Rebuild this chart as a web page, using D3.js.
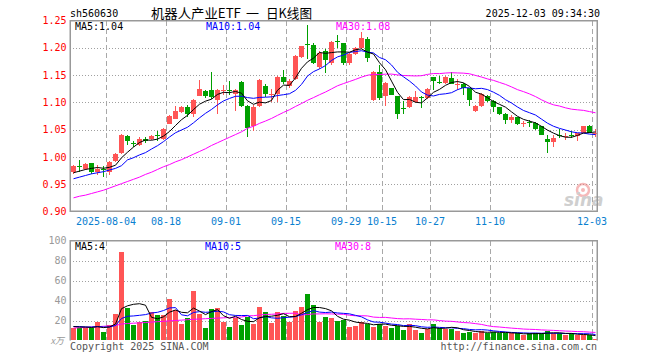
<!DOCTYPE html>
<html><head><meta charset="utf-8">
<script src="https://cdn.jsdelivr.net/npm/d3@7"></script>
<style>body{margin:0;background:#fff}</style>
</head><body><svg id="c" width="660" height="360"></svg>
<script>
const dates = ["07-25","07-28","07-29","07-30","07-31","08-01","08-04","08-05","08-06","08-07","08-08","08-11","08-12","08-13","08-14","08-15","08-18","08-19","08-20","08-21","08-22","08-25","08-26","08-27","08-28","08-29","09-01","09-02","09-03","09-04","09-05","09-08","09-09","09-10","09-11","09-12","09-15","09-16","09-17","09-18","09-19","09-22","09-23","09-24","09-25","09-26","09-29","09-30","10-09","10-10","10-13","10-14","10-15","10-16","10-17","10-20","10-21","10-22","10-23","10-24","10-27","10-28","10-29","10-30","10-31","11-03","11-04","11-05","11-06","11-07","11-10","11-11","11-12","11-13","11-14","11-17","11-18","11-19","11-20","11-21","11-24","11-25","11-26","11-27","11-28","12-01","12-02","12-03"];
const open  = [0.972,0.983,0.978,0.988,0.973,0.977,0.972,0.992,1.007,1.039,1.026,1.022,1.033,1.033,1.040,1.032,1.061,1.070,1.082,1.092,1.079,1.112,1.120,1.122,1.105,1.121,1.123,1.116,1.137,1.094,1.057,1.094,1.130,1.113,1.116,1.147,1.130,1.143,1.183,1.207,1.206,1.165,1.194,1.172,1.213,1.208,1.172,1.188,1.200,1.217,1.104,1.155,1.111,1.127,1.112,1.089,1.092,1.100,1.109,1.108,1.146,1.138,1.136,1.145,1.133,1.133,1.127,1.085,1.094,1.112,1.102,1.091,1.079,1.067,1.073,1.062,1.064,1.062,1.056,1.032,1.027,1.041,1.037,1.041,1.039,1.044,1.057,1.043];
const high  = [0.986,0.994,0.989,0.989,0.985,0.983,0.993,1.007,1.042,1.041,1.030,1.036,1.036,1.041,1.048,1.053,1.077,1.093,1.093,1.096,1.106,1.141,1.123,1.155,1.125,1.131,1.140,1.125,1.139,1.095,1.095,1.142,1.133,1.124,1.148,1.159,1.142,1.186,1.204,1.241,1.208,1.194,1.197,1.212,1.223,1.209,1.191,1.202,1.229,1.219,1.157,1.168,1.138,1.127,1.112,1.102,1.112,1.120,1.111,1.127,1.147,1.148,1.149,1.155,1.142,1.135,1.127,1.096,1.118,1.114,1.105,1.091,1.080,1.077,1.074,1.065,1.068,1.064,1.057,1.041,1.041,1.051,1.043,1.048,1.044,1.057,1.058,1.052];
const low   = [0.968,0.973,0.976,0.968,0.966,0.963,0.967,0.990,1.006,1.021,1.018,1.020,1.026,1.031,1.029,1.031,1.060,1.069,1.080,1.074,1.074,1.111,1.108,1.106,1.079,1.113,1.114,1.084,1.092,1.036,1.048,1.092,1.110,1.101,1.101,1.133,1.126,1.141,1.181,1.179,1.171,1.162,1.154,1.169,1.200,1.169,1.169,1.186,1.198,1.174,1.102,1.105,1.094,1.113,1.070,1.078,1.090,1.098,1.089,1.106,1.123,1.133,1.134,1.133,1.123,1.114,1.094,1.082,1.092,1.100,1.082,1.077,1.060,1.063,1.059,1.055,1.055,1.050,1.041,1.008,1.018,1.035,1.031,1.035,1.029,1.043,1.044,1.036];
const close = [0.983,0.982,0.987,0.973,0.978,0.976,0.991,1.006,1.041,1.029,1.023,1.033,1.029,1.039,1.039,1.051,1.075,1.084,1.092,1.079,1.104,1.124,1.112,1.110,1.123,1.123,1.121,1.123,1.094,1.053,1.091,1.141,1.116,1.116,1.147,1.138,1.139,1.185,1.203,1.206,1.172,1.191,1.177,1.210,1.212,1.172,1.188,1.200,1.218,1.182,1.155,1.108,1.136,1.114,1.079,1.088,1.110,1.110,1.108,1.125,1.139,1.137,1.147,1.134,1.134,1.127,1.104,1.094,1.116,1.102,1.091,1.079,1.068,1.073,1.061,1.063,1.063,1.052,1.041,1.027,1.035,1.040,1.038,1.040,1.044,1.057,1.044,1.044];
const volume = [13,12.5,12.5,12.5,18.5,8.5,16,27,89,33,16,19,19.5,28.5,25.5,26,42,30.5,17,23,49.5,27,13,32,33,19,14,23,16,24,17,34,28.5,18,28.5,25,19,29.5,34,47,35.5,19,24,23,19.5,21,14,14.5,19,17,14,17,15,13,15,10.5,17,11,7.5,12,17,13,12,12,9.5,7.5,9,7,9.5,8,9,7,7,7,7,5.5,7,8,7,9.5,7,7,5,7,5.5,5.5,5.5,1];
// moving-average values before a full window is available
const ma5Head  = [0.971,0.974,0.977,0.979];
const ma10Head = [0.960,0.963,0.966,0.969,0.971,0.973,0.976,0.979,0.984];
const ma30Head = [0.925,0.928,0.930,0.933,0.936,0.939,0.943,0.947,0.951,0.955,0.959,0.963,0.968,0.972,0.977,0.982,0.986,0.991,0.995,1.000,1.005,1.010,1.015,1.021,1.026,1.031,1.036,1.041,1.046];
const vma5Head  = [14,13.5,13.5,13];
const vma10Head = [14,14,13.5,13.5,14,13.5,13.5,15,22];
const vma30Head = [12.5,12.8,13.1,13.4,13.8,14.2,14.6,15,16.5,17,17.3,17.6,18,18.4,18.8,19.2,19.6,20,20.4,20.8,21.2,21.5,21.8,22.1,22.4,22.7,23,23.2,23.5];
const tickDates  = ["08-04","08-18","09-01","09-15","09-29","10-15","10-27","11-10","12-03"];
const tickLabels = ["2025-08-04","08-18","09-01","09-15","09-29","10-15","10-27","11-10","12-03"];
const priceTicks = [1.25,1.20,1.15,1.10,1.05,1.00,0.95,0.90];
const volTicks = [100,80,60,40,20];
const legendPrice = ["MA5:1.04","MA10:1.04","MA30:1.08"];
const legendVol = ["MA5:4","MA10:5","MA30:8"];

function movingAvg(arr, n, head){
  return arr.map((v,i)=> i < n-1 ? head[i] : d3.mean(arr.slice(i-n+1,i+1)));
}
const ma5 = movingAvg(close,5,ma5Head), ma10 = movingAvg(close,10,ma10Head), ma30 = movingAvg(close,30,ma30Head);
const vma5 = movingAvg(volume,5,vma5Head), vma10 = movingAvg(volume,10,vma10Head), vma30 = movingAvg(volume,30,vma30Head);

const svg = d3.select("#c");
const mono = "'DejaVu Sans Mono','Liberation Mono',monospace";
const cjk = "'Noto Sans CJK SC',sans-serif";
const L = 70, R = 598;
const x = d3.scaleBand().domain(d3.range(dates.length)).range([L, R]).paddingInner(0).paddingOuter(0);
const cx = i => Math.round(x(i)) + 3;
const y = d3.scaleLinear().domain([0.90,1.25]).range([211.5,20.5]);
const vy = d3.scaleLinear().domain([0,100]).range([340.5,240.5]);
const RED = "#ff5555", GREEN = "#00a000";

const tickIdx = tickDates.map(d => dates.indexOf(d));

// grid
const gP = svg.append("g");
priceTicks.filter(t => t<1.249 && t>0.901).forEach(t=>{
  gP.append("line").attr("x1",L).attr("x2",597).attr("y1",Math.round(y(t))+0.5).attr("y2",Math.round(y(t))+0.5)
    .attr("stroke","#a0a0a0").attr("stroke-dasharray","1,2");
});
tickIdx.forEach(i=>{
  const xx = Math.round(x(i))+0.5;
  gP.append("line").attr("x1",xx).attr("x2",xx).attr("y1",21).attr("y2",211).attr("stroke","#a8a8a8").attr("stroke-dasharray","5,3");
  gP.append("line").attr("x1",xx).attr("x2",xx).attr("y1",241).attr("y2",340).attr("stroke","#a8a8a8").attr("stroke-dasharray","5,3");
});
volTicks.filter(t=>t<100).forEach(t=>{
  gP.append("line").attr("x1",L).attr("x2",597).attr("y1",Math.round(vy(t))+0.5).attr("y2",Math.round(vy(t))+0.5)
    .attr("stroke","#a0a0a0").attr("stroke-dasharray","1,2");
});

// watermark
const wm = svg.append("g").attr("opacity",0.55);
wm.append("circle").attr("cx",583).attr("cy",190).attr("r",6).attr("fill","none").attr("stroke","#f08080").attr("stroke-width",2.5);
wm.append("circle").attr("cx",583).attr("cy",190).attr("r",2).attr("fill","#f08080");
wm.append("text").attr("x",564).attr("y",206).attr("font-family","'DejaVu Sans',sans-serif").attr("font-size",17)
  .attr("font-style","italic").attr("font-weight","bold").attr("fill","#a8a8a8").text("sina");

// candles + volume bars
const gC = svg.append("g").attr("shape-rendering","crispEdges");
dates.forEach((d,i)=>{
  const col = close[i] >= open[i] ? RED : GREEN;
  const c = cx(i);
  const yh = Math.round(y(high[i])), yl = Math.round(y(low[i]));
  gC.append("rect").attr("x",c).attr("y",yh).attr("width",1).attr("height",Math.max(1,yl-yh)).attr("fill",col);
  const yt = Math.round(y(Math.max(open[i],close[i]))), yb = Math.round(y(Math.min(open[i],close[i])));
  gC.append("rect").attr("x",c-2).attr("y",yt).attr("width",5).attr("height",Math.max(1,yb-yt)).attr("fill",col);
  const vt = Math.round(vy(volume[i]));
  gC.append("rect").attr("x",c-2).attr("y",vt).attr("width",5).attr("height",Math.max(1,340-vt)).attr("fill",col);
});

// MA lines
const lineP = d3.line().x((d,i)=>cx(i)+0.5).y(d=>y(d));
const lineV = d3.line().x((d,i)=>cx(i)+0.5).y(d=>vy(d));
[[ma30,"#ff00ff"],[ma10,"#0000ff"],[ma5,"#000000"]].forEach(([a,c])=>{
  svg.append("path").attr("d",lineP(a)).attr("fill","none").attr("stroke",c).attr("stroke-width",1);
});
[[vma30,"#ff00ff"],[vma10,"#0000ff"],[vma5,"#000000"]].forEach(([a,c])=>{
  svg.append("path").attr("d",lineV(a)).attr("fill","none").attr("stroke",c).attr("stroke-width",1);
});

// borders
const gB = svg.append("g").attr("fill","none").attr("stroke","#999").attr("stroke-width",1.5);
gB.append("rect").attr("x",70.25).attr("y",20.75).attr("width",527).attr("height",190.5);
gB.append("path").attr("d","M70.25,340.5V240.75H597.25V340.5");

// text helper
const txt = (xx,yy,s,opt={}) => svg.append("text").attr("x",xx).attr("y",yy).attr("font-family",opt.ff||mono)
  .attr("font-size",opt.fs||10).attr("fill",opt.fill||"#000").attr("text-anchor",opt.anchor||"start").text(s);
priceTicks.forEach(t=> txt(66.5, y(t)+3.6, d3.format(".2f")(t), {anchor:"end", fill:"#ff0000"}));
volTicks.forEach(t=> txt(66.5, vy(t)+3.6, String(t), {anchor:"end", fill:"#999"}));
txt(64, 343.5, "x万", {anchor:"end", fill:"#999", fs:9, ff:cjk}).attr("font-style","italic");
tickIdx.forEach((i,k)=> txt(Math.round(x(i)), 225.3, tickLabels[k], {anchor:"middle", fill:"#0a80d0"}));

// legends
txt(75, 29.6, legendPrice[0]);
txt(206, 29.6, legendPrice[1], {fill:"#0000ff"});
txt(336, 29.6, legendPrice[2], {fill:"#ff00ff"});
txt(75, 250.3, legendVol[0]);
txt(205, 250.3, legendVol[1], {fill:"#0000ff"});
txt(335, 250.3, legendVol[2], {fill:"#ff00ff"});

// header
txt(70, 17, "sh560630");
txt(151, 17.5, "机器人产业ETF", {ff:cjk, fs:13}).attr("textLength",90).attr("lengthAdjust","spacingAndGlyphs");
txt(246, 17.5, "一", {ff:cjk, fs:13});
txt(266, 17.5, "日K线图", {ff:cjk, fs:13}).attr("textLength",46).attr("lengthAdjust","spacingAndGlyphs");
txt(600, 17, "2025-12-03 09:34:30", {anchor:"end"});
// footer
txt(70, 349.5, "Copyright 2025 SINA.COM", {fill:"#555"});
txt(597, 349.5, "http://finance.sina.com.cn", {anchor:"end", fill:"#555"});
</script>
</body></html>
